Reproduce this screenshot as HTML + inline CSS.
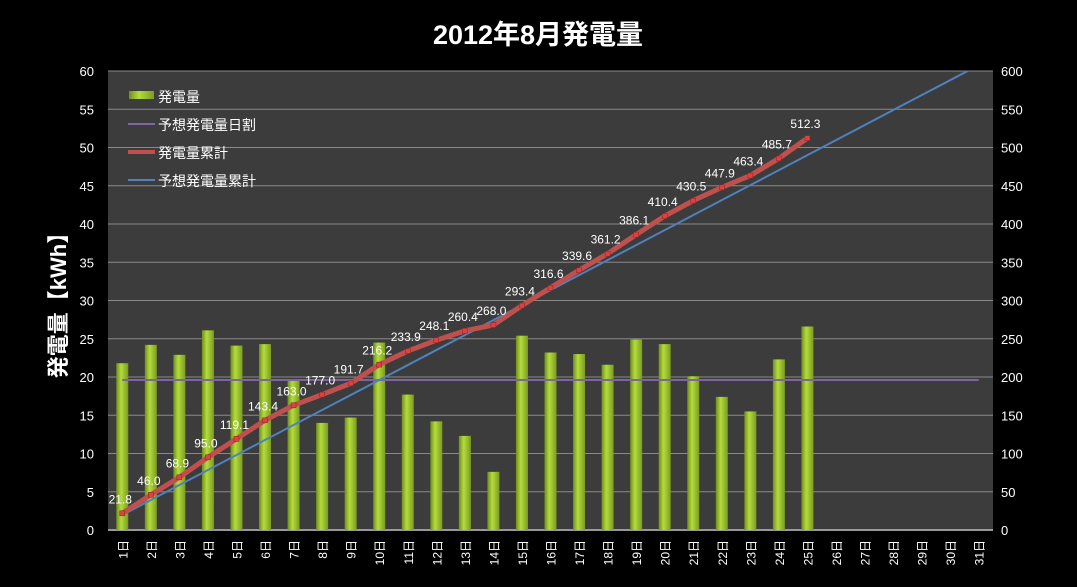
<!DOCTYPE html>
<html><head><meta charset="utf-8"><style>
body{margin:0;background:#000;width:1077px;height:582px;overflow:hidden}
text{font-family:"Liberation Sans","Noto Sans CJK JP",sans-serif}
</style></head><body>
<svg id="c" width="1077" height="582" xmlns="http://www.w3.org/2000/svg">
<defs><linearGradient id="bg" x1="0" x2="1"><stop offset="0" stop-color="#6f8f1a"/><stop offset="0.4" stop-color="#b4dc3c"/><stop offset="1" stop-color="#7a9c22"/></linearGradient></defs>
<rect x="0" y="0" width="1077" height="582" fill="#000"/>
<rect x="108" y="71" width="885" height="459" fill="#3c3c3c"/>
<text x="538" y="44" fill="#fff" font-size="27" font-weight="bold" text-anchor="middle">2012年8月発電量</text>
<text transform="translate(66,300) rotate(-90)" fill="#fff" font-size="22" font-weight="bold" text-anchor="middle">発電量【kWh】</text>
<g id="g"></g>
</svg>
<script>
const days=["1日","2日","3日","4日","5日","6日","7日","8日","9日","10日","11日","12日","13日","14日","15日","16日","17日","18日","19日","20日","21日","22日","23日","24日","25日","26日","27日","28日","29日","30日","31日"];
const daily=[21.8,24.2,22.9,26.1,24.1,24.3,19.6,14.0,14.7,24.5,17.7,14.2,12.3,7.6,25.4,23.2,23.0,21.6,24.9,24.3,20.1,17.4,15.5,22.3,26.6];
const cumulative=[21.8,46.0,68.9,95.0,119.1,143.4,163.0,177.0,191.7,216.2,233.9,248.1,260.4,268.0,293.4,316.6,339.6,361.2,386.1,410.4,430.5,447.9,463.4,485.7,512.3];
const expectedDaily=19.6;
const leftTicks=[0,5,10,15,20,25,30,35,40,45,50,55,60];
const rightTicks=[0,50,100,150,200,250,300,350,400,450,500,550,600];
const L=108,R=993,T=71,B=530,cw=(R-L)/days.length;
const x=i=>L+cw*(i+0.5);
const yl=v=>B-(v/60)*(B-T);
const yr=v=>B-(v/600)*(B-T);
const g=document.getElementById('g');const NS="http://www.w3.org/2000/svg";
function mk(t,a,txt){const e=document.createElementNS(NS,t);for(const k in a)e.setAttribute(k,a[k]);if(txt!=null)e.textContent=txt;g.appendChild(e);return e;}
leftTicks.forEach((v,i)=>{
 if(v>0){const l=mk('line',{x1:L,x2:R,y1:yl(v),y2:yl(v),stroke:'#8a8a8a','stroke-width':1});
 
 }
 const t=mk('text',{x:L-14,y:yl(v)+5,fill:'#fff','font-size':13,'text-anchor':'end'},v);
 
 
});
rightTicks.forEach(v=>{
 const t=mk('text',{x:R+8,y:yr(v)+5,fill:'#fff','font-size':13},v);
 
 
});
mk('line',{x1:L,x2:R,y1:B,y2:B,stroke:'#999','stroke-width':2});
days.forEach((d,i)=>{
 const t=mk('text',{transform:`translate(${x(i)+5},${B+10}) rotate(-90)`,fill:'#fff','font-size':12,'text-anchor':'end'},d);
 
 
});
daily.forEach((v,i)=>{
 const b=mk('rect',{x:x(i)-6,y:yl(v),width:12,height:B-yl(v),fill:'url(#bg)'});
 
 
});
const ed=mk('line',{x1:x(0),x2:x(days.length-1),y1:yl(expectedDaily),y2:yl(expectedDaily),stroke:'#8064a2','stroke-width':2});


let pts=[];days.forEach((d,i)=>{pts.push([x(i),yr(expectedDaily*(i+1))]);});
const cp=mk('clipPath',{id:'cl'});const cr=document.createElementNS(NS,'rect');cr.setAttribute('x',L);cr.setAttribute('y',T);cr.setAttribute('width',R-L);cr.setAttribute('height',B-T);cp.appendChild(cr);
const ec=mk('polyline',{points:pts.map(p=>p.join(',')).join(' '),fill:'none',stroke:'#4f81bd','stroke-width':2,'clip-path':'url(#cl)'});


const cl=mk('polyline',{points:cumulative.map((v,i)=>x(i)+','+yr(v)).join(' '),fill:'none',stroke:'#c0504d','stroke-width':5});


cumulative.forEach((v,i)=>{
 const m=mk('rect',{x:x(i)-2.5,y:yr(v)-2.5,width:5,height:5,fill:'#e04040',stroke:'#8a2020','stroke-width':0.5});
 
 
 const t=mk('text',{x:x(i)-2,y:yr(v)-10,fill:'#fff','font-size':12,'text-anchor':'middle'},v.toFixed(1));
 
 
});
const lg=[["発電量","bar"],["予想発電量日割","#8064a2"],["発電量累計","#c0504d"],["予想発電量累計","#4f81bd"]];
lg.forEach((e,i)=>{
 const yy=96+i*28;
 if(e[1]=="bar"){mk('rect',{x:129,y:yy-5,width:25,height:8,fill:'url(#bg)'});}
 else{mk('line',{x1:128,x2:155,y1:yy,y2:yy,stroke:e[1],'stroke-width':e[1]=='#c0504d'?4:2});}
 const t=mk('text',{x:158,y:yy+6,fill:'#fff','font-size':14},e[0]);
 
 
});
</script>
</body></html>
